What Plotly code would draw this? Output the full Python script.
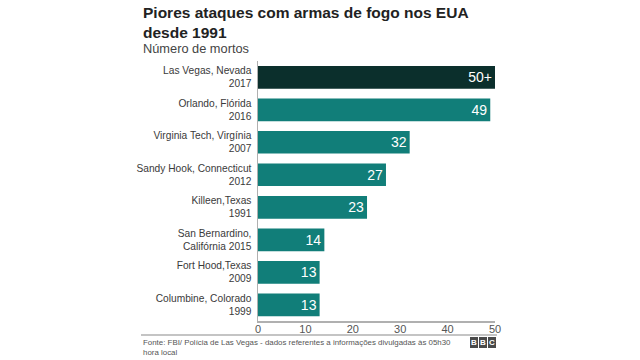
import plotly.graph_objects as go

categories = [
    "Las Vegas, Nevada<br>2017",
    "Orlando, Flórida<br>2016",
    "Virginia Tech, Virgínia<br>2007",
    "Sandy Hook, Connecticut<br>2012",
    "Killeen,Texas<br>1991",
    "San Bernardino,<br>Califórnia 2015",
    "Fort Hood,Texas<br>2009",
    "Columbine, Colorado<br>1999",
]
values = [50, 49, 32, 27, 23, 14, 13, 13]
value_labels = ["50+", "49", "32", "27", "23", "14", "13", "13"]
tick_vals = [0, 10, 20, 30, 40, 50]

TEAL = "#117e79"
DARK = "#0b2f2c"
colors = [DARK] + [TEAL] * (len(values) - 1)

FONT = "Liberation Sans, Arial, sans-serif"

# plot area in pixels
L, R, T, B = 258, 495, 61, 321
W, H = 640, 360
def px(x):
    return (x - L) / (R - L)
def py(y):
    return (B - y) / (B - T)

fig = go.Figure(go.Bar(
    x=values, y=categories, orientation="h",
    marker=dict(color=colors, line=dict(width=0)),
    text=value_labels, textposition="inside", insidetextanchor="end", textangle=0,
    textfont=dict(color="white", size=14, family=FONT),
    cliponaxis=False, hoverinfo="skip",
))

fig.update_layout(
    width=W, height=H,
    margin=dict(l=L, r=W - R, t=T, b=H - B, pad=0),
    plot_bgcolor="white", paper_bgcolor="white",
    bargap=0.3, showlegend=False,
    font=dict(family=FONT, color="#404040", size=10),
    xaxis=dict(range=[0, 50], tickvals=tick_vals, showgrid=False, zeroline=False,
               showline=True, linecolor="#b0b0b0", linewidth=1.5, ticks="",
               ticklabelstandoff=-3,
               tickfont=dict(size=11, color="#555555"), fixedrange=True),
    yaxis=dict(autorange="reversed", showgrid=False, zeroline=False, showline=True,
               linecolor="#b0b0b0", linewidth=1.5, ticks="", ticklabelstandoff=3,
               tickfont=dict(size=10.2, color="#3a3a3a"), fixedrange=True),
)

annotations = [
    dict(text="<b>Piores ataques com armas de fogo nos EUA<br>desde 1991</b>",
         x=px(141), y=py(2), xanchor="left", yanchor="top", align="left",
         font=dict(size=15.5, color="#222222", family=FONT)),
    dict(text="Número de mortos", x=px(141), y=py(39), xanchor="left", yanchor="top",
         align="left", font=dict(size=12.8, color="#444444", family=FONT)),
    dict(text="Fonte: FBI/ Polícia de Las Vegas - dados referentes a informações divulgadas às 05h30<br>hora local",
         x=px(141), y=py(336), xanchor="left", yanchor="top", align="left",
         font=dict(size=7.9, color="#555555", family=FONT)),
]
shapes = [
    dict(type="line", xref="paper", yref="paper", x0=px(141), x1=px(497),
         y0=py(335), y1=py(335), line=dict(color="#b0b0b0", width=1.5)),
]
for i, letter in enumerate("BBC"):
    x0 = 470 + i * 9
    shapes.append(dict(type="rect", xref="paper", yref="paper",
                       x0=px(x0), x1=px(x0 + 8), y0=py(348), y1=py(337),
                       fillcolor="#4a4a4a", line=dict(width=0)))
    annotations.append(dict(text="<b>%s</b>" % letter, x=px(x0 + 4), y=py(342.5),
                            xanchor="center", yanchor="middle",
                            font=dict(size=8, color="white", family=FONT)))

for a in annotations:
    a.update(xref="paper", yref="paper", showarrow=False)
fig.update_layout(annotations=annotations, shapes=shapes)

fig.write_html("out.html", config={"displayModeBar": False, "staticPlot": True},
               post_script="document.body.style.margin='0';")
